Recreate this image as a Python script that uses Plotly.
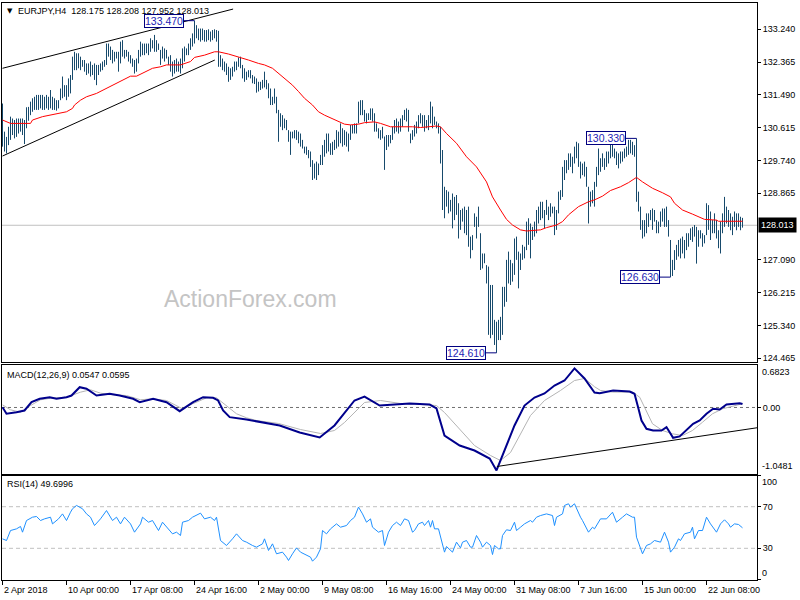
import plotly.graph_objects as go

# ---------------- data ----------------
bar_high = [131.26,130.51,130.37,130.64,130.91,130.86,130.82,130.86,130.86,130.86,
130.86,130.82,131.16,131.17,131.31,131.40,131.44,131.49,131.49,131.49,
131.49,131.44,131.49,131.44,131.62,131.44,131.40,131.35,131.35,131.66,
131.98,131.75,131.75,131.93,132.02,132.51,132.64,132.60,132.60,132.51,
132.42,132.42,132.33,132.33,132.38,132.29,132.33,132.29,132.29,132.33,
132.38,132.42,132.86,132.86,132.78,132.69,132.64,132.64,132.64,132.91,
132.95,132.69,132.69,132.64,132.55,132.46,132.42,132.46,132.69,132.91,
132.86,132.86,132.86,132.86,133.00,132.95,133.09,132.95,132.86,132.69,
132.78,132.73,132.69,132.51,132.55,132.38,132.42,132.46,132.38,132.46,
132.73,132.78,132.73,132.86,133.00,133.13,133.47,133.35,133.26,133.26,
133.26,133.22,133.22,133.24,133.18,133.22,133.24,133.22,133.20,132.55,
132.46,132.38,132.33,132.24,132.20,132.24,132.38,132.38,132.49,132.51,
132.29,132.20,132.11,132.15,132.15,132.02,131.98,131.93,131.84,131.84,
131.89,132.11,131.89,131.80,131.66,131.44,131.66,131.44,131.09,131.00,
130.95,130.86,130.82,130.55,130.51,130.51,130.55,130.55,130.51,130.46,
130.29,130.11,130.11,130.02,129.98,129.75,129.66,129.71,129.66,129.89,
130.15,130.29,130.46,130.46,130.20,130.24,130.29,130.55,130.51,130.73,
130.60,130.55,130.51,130.46,130.69,130.69,130.73,130.73,131.31,131.35,
131.35,131.09,131.00,131.00,131.13,131.13,131.00,130.73,130.60,130.55,
130.64,130.38,130.42,130.42,130.42,130.64,130.82,130.86,130.78,130.86,
130.95,131.09,131.13,131.09,130.46,130.55,130.69,130.78,130.95,131.00,
130.95,130.95,130.82,130.95,131.31,131.18,130.91,130.78,130.73,130.64,
130.02,129.04,128.95,128.91,128.69,128.86,128.77,128.82,128.60,128.42,
128.46,128.51,128.42,128.51,127.71,127.75,128.33,128.24,128.51,127.80,
127.26,127.26,126.95,126.91,126.42,126.42,125.49,125.44,125.49,125.57,
126.37,126.37,127.09,127.31,127.09,127.00,127.66,127.71,127.31,127.26,
127.49,127.44,128.11,128.20,128.06,127.97,128.11,128.42,128.51,128.64,
128.64,128.42,128.69,128.51,128.60,128.51,128.51,128.42,128.91,128.95,
129.57,129.75,129.75,129.93,129.93,129.84,130.11,130.24,130.20,129.71,
129.66,129.71,129.57,129.04,128.91,128.95,129.17,129.57,130.06,129.80,
129.93,129.80,129.98,129.98,130.20,130.29,130.06,129.98,129.93,129.98,
129.98,130.06,130.11,130.29,130.29,130.24,130.15,130.33,128.91,128.51,
128.15,128.15,128.33,128.33,128.42,128.46,128.42,128.15,128.11,128.38,
128.46,128.46,128.51,128.15,127.62,127.09,127.35,127.49,127.62,127.66,
127.71,127.62,127.80,127.80,127.93,127.97,128.02,127.97,127.88,127.88,
127.80,127.75,128.60,128.55,128.38,128.15,128.33,128.15,127.88,128.11,
128.33,128.77,128.51,128.42,128.33,128.24,128.38,128.33,128.33,128.24,
128.21]

bar_low = [130.11,129.98,129.93,130.15,130.29,130.42,130.33,130.37,130.46,130.51,
130.42,130.18,130.60,130.80,130.95,131.04,131.09,131.09,131.09,131.13,
131.09,131.09,131.13,131.09,131.13,131.09,131.09,131.07,131.13,131.35,
131.40,131.44,131.35,131.44,131.53,131.89,132.15,132.15,132.20,132.15,
132.24,132.11,132.02,132.06,131.98,132.02,131.89,131.75,132.02,132.11,
132.15,132.24,132.29,132.51,132.42,132.33,132.38,132.46,132.11,132.33,
132.51,132.46,132.51,132.38,132.33,132.24,132.06,132.11,132.33,132.51,
132.55,132.55,132.60,132.55,132.64,132.73,132.64,132.64,132.69,132.29,
132.46,132.38,132.46,132.29,132.11,131.98,132.06,132.11,132.11,132.06,
132.20,132.38,132.55,132.55,132.69,132.78,132.86,133.00,132.95,132.91,
132.95,132.91,132.91,132.95,132.91,132.95,133.00,132.91,132.24,132.24,
132.15,132.11,132.02,131.84,131.89,131.98,132.11,132.15,132.24,132.20,
131.93,131.84,131.89,131.96,131.93,131.80,131.78,131.55,131.58,131.62,
131.66,131.69,131.64,131.40,131.22,131.22,131.26,131.00,130.24,130.64,
130.55,130.60,130.55,130.24,129.89,130.33,130.33,130.29,130.20,130.11,
130.06,129.93,129.89,129.80,129.57,129.22,129.26,129.22,129.35,129.62,
129.62,129.84,129.93,129.98,129.89,129.89,130.02,130.06,130.11,130.20,
130.11,130.15,130.11,129.98,130.29,130.46,130.46,130.46,130.73,130.95,
130.95,130.78,130.73,130.82,130.82,130.78,130.51,130.51,130.33,130.29,
130.33,129.49,130.02,130.11,130.20,130.29,130.46,130.51,130.46,130.51,
130.64,130.82,130.78,130.51,130.20,130.29,130.38,130.46,130.60,130.73,
130.64,130.51,130.60,130.55,130.73,130.60,130.69,130.60,130.46,129.66,
128.42,128.20,128.51,128.33,128.38,127.93,128.15,128.29,127.66,127.89,
128.11,127.80,127.75,127.44,127.13,127.35,127.97,127.66,127.97,126.82,
126.86,127.00,126.46,125.09,125.00,125.09,124.82,124.61,124.95,124.95,
125.09,125.84,125.97,126.46,126.42,126.51,126.69,127.09,126.33,126.82,
127.09,127.13,127.35,127.49,127.13,127.62,127.71,127.80,128.06,128.15,
128.20,127.93,128.29,128.15,128.24,128.33,127.75,127.89,128.33,128.69,
128.77,129.22,129.40,129.49,129.57,129.40,129.66,129.80,129.57,129.26,
129.35,129.31,129.04,128.06,128.51,128.60,128.51,129.04,129.35,129.44,
129.57,129.49,129.57,129.66,129.80,129.84,129.80,129.62,129.53,129.66,
129.71,129.80,129.84,129.89,129.93,129.89,129.84,128.64,128.38,127.89,
127.66,127.71,127.80,127.97,128.15,127.89,128.11,127.80,127.80,127.97,
128.11,127.97,127.97,127.71,126.63,126.66,126.82,127.09,127.18,127.13,
127.26,127.13,127.35,127.44,127.62,127.57,127.71,126.99,127.44,127.66,
127.44,127.53,127.75,127.89,127.62,127.80,127.80,127.66,127.40,127.26,
127.80,127.97,128.06,127.97,127.88,127.75,127.97,127.88,127.97,127.88,
127.95]

ma_bar = [0,2,4,14,15,20,28,32,35,36,39,42,47,52,57,62,64,67,72,75,79,82,89,94,96,101,106,108,
          113,118,123,128,131,135,138,141,145,148,151,155,158,161,165,168,171,174,178,181,186,189,
          194,205,209,217,219,222,227,232,237,242,245,249,252,255,259,262,265,269,272,277,280,283,
          288,293,296,300,304,309,313,317,320,325,330,334,336,340,345,351,357,358,370]
ma_value = [130.82,130.78,130.73,130.73,130.82,130.91,131.00,131.04,131.13,131.22,131.35,131.44,
            131.53,131.66,131.80,131.93,131.99,131.99,132.11,132.20,132.24,132.29,132.29,132.38,
            132.49,132.55,132.64,132.64,132.58,132.51,132.42,132.33,132.29,132.20,132.06,131.93,
            131.75,131.58,131.40,131.22,131.04,130.95,130.86,130.78,130.71,130.69,130.71,130.75,
            130.77,130.73,130.64,130.64,130.62,130.66,130.64,130.46,130.20,129.84,129.57,129.17,
            128.77,128.42,128.17,128.02,127.89,127.86,127.87,127.89,127.95,128.02,128.11,128.29,
            128.51,128.64,128.69,128.79,128.94,129.04,129.15,129.29,129.17,129.00,128.88,128.77,
            128.60,128.42,128.31,128.17,128.15,128.12,128.12]

macd_bar = [0,2,7,11,14.5,18.6,23.6,27,32,34.5,38.6,42,47,53.6,58.6,65.3,68.6,75.3,82,85.3,88.6,
            95.3,100.3,105.3,107.8,110.3,113.6,122,127,138.6,148.6,158.6,166,171,176,181,188.6,196,
            203.6,213.6,217,221,228.6,236,243.6,247,251,256,261,266,271,276,281,286,291,296,298.6,
            305.3,313.6,316,317.8,319.5,322,325.3,329.5,332,333.6,335.3,338.6,342,345.3,348.6,352,
            355.3,358.6,362,365.3,368.6,370]
macd_value = [0.005,-0.100,-0.075,-0.048,0.084,0.138,0.163,0.138,0.163,0.190,0.322,0.297,0.190,
              0.217,0.190,0.138,0.084,0.138,0.084,0.005,-0.059,0.084,0.163,0.153,0.111,-0.048,
              -0.154,-0.191,-0.218,-0.286,-0.397,-0.476,-0.286,-0.095,0.111,0.174,0.031,0.047,
              0.063,0.047,-0.016,-0.445,-0.604,-0.683,-0.810,-1.000,-0.683,-0.286,0.031,0.158,
              0.222,0.349,0.428,0.620,0.460,0.238,0.227,0.270,0.254,0.217,0.005,-0.207,-0.338,
              -0.365,-0.365,-0.313,-0.392,-0.481,-0.460,-0.365,-0.259,-0.207,-0.100,-0.021,-0.032,
              0.047,0.058,0.068,0.0547]

signal_bar = [0,4,9,14,19,24,32,39,44,49,55,62,69,75,82,87,90,95,102,107,112,117,122,127,138,149,
              159,166,171,176,181,189,199,209,217,221,229,236,244,249,254,259,264,271,279,286,291,
              296,299,305,315,318.6,322,325,330,335,340,345,350,355,360,365,370]
signal_value = [0.042,-0.037,-0.075,0.031,0.122,0.147,0.163,0.243,0.281,0.227,0.201,0.190,0.122,
                0.138,0.111,0.031,-0.021,0.058,0.153,0.153,0.031,-0.100,-0.164,-0.207,-0.254,
                -0.350,-0.413,-0.365,-0.238,-0.080,0.079,0.111,0.063,0.047,0.031,-0.080,-0.365,
                -0.604,-0.762,-0.842,-0.715,-0.413,-0.127,0.111,0.270,0.428,0.460,0.330,0.270,
                0.245,0.243,0.163,-0.048,-0.259,-0.365,-0.418,-0.445,-0.365,-0.234,-0.100,-0.021,
                0.016,0.0595]

rsi_bar = [0,2,4,7,9,10,12,15,17,19,21,24,25,28,30,32,34,35,37,40,42,44,46,49,52,55,57,59,61,64,
           66,69,70,73,75,78,80,83,85,87,89,90,93,95,99,101,104,106,107,109,112,115,117,120,122,
           125,127,130,131,133,135,137,140,142,143,145,147,149,152,154,155,157,159,160,162,164,
           167,169,172,174,176,178,180,182,184,185,188,190,191,193,195,197,199,201,203,205,206,
           208,210,211,213,214,215,216,218,219,221,222,225,227,229,230,232,234,235,237,239,240,
           242,244,245,246,248,249,250,252,254,256,257,259,261,264,265,267,269,272,275,276,277,
           280,281,283,284,286,287,289,290,293,295,296,299,302,305,307,310,312,315,316,317,319,
           320,322,324,326,329,331,333,334,336,338,339,341,344,345,346,348,350,352,354,357,359,
           361,363,364,366,368,370]
rsi_value = [39.1,37.5,47.1,48.7,51.0,45.5,56.7,59.9,60.6,56.7,58.3,59.9,53.5,58.3,63.1,56.7,64.7,
             68.0,71.2,68.0,63.1,59.9,51.9,58.3,66.3,56.7,59.9,53.5,59.9,53.5,45.5,53.5,59.9,55.1,
             56.7,47.1,55.1,48.7,43.9,45.5,42.3,55.1,56.7,59.9,63.8,58.3,59.9,56.7,59.9,37.5,32.7,
             39.1,43.9,37.5,35.9,32.7,31.1,34.3,39.1,27.9,34.3,24.7,26.3,21.5,18.3,24.7,30.4,26.3,
             23.1,21.5,17.6,21.5,29.5,47.1,43.9,48.7,53.5,50.3,51.9,56.7,59.9,69.6,63.1,55.1,58.3,
             50.3,45.5,47.1,32.7,45.5,51.9,55.1,51.9,58.3,56.7,45.5,47.1,53.5,55.1,51.9,56.7,50.3,
             56.7,48.7,48.7,40.7,26.3,31.7,26.3,35.9,30.4,35.9,37.5,31.1,31.1,42.3,35.9,31.1,35.9,
             32.7,24.0,32.7,29.5,29.5,42.3,47.8,47.1,55.1,47.1,50.3,53.5,56.7,55.1,59.9,61.5,63.1,
             61.5,51.9,59.9,63.1,71.2,72.8,69.6,72.8,67.9,59.9,56.7,45.5,50.3,48.7,58.3,58.3,64.7,
             55.1,59.9,63.1,59.9,59.9,40.7,31.1,24.7,32.7,34.3,37.5,35.9,45.5,35.9,26.3,31.1,39.1,
             37.5,43.9,45.5,50.3,39.1,47.1,47.1,59.9,53.5,45.5,53.5,57.4,53.5,50.3,53.5,52.9,49.7]

time_tick_bars = [0, 32, 64, 96, 128, 160, 192, 224, 256, 288, 320, 352]
time_labels = ["2 Apr 2018", "10 Apr 00:00", "17 Apr 08:00", "24 Apr 16:00", "2 May 00:00",
               "9 May 08:00", "16 May 16:00", "24 May 00:00", "31 May 08:00", "7 Jun 16:00",
               "15 Jun 00:00", "22 Jun 08:00"]
price_ticks = [133.240, 132.365, 131.490, 130.615, 129.740, 128.865, 127.090, 126.215, 125.340, 124.465]
last_ohlc = [128.175, 128.208, 127.952, 128.013]
macd_last = [0.0547, 0.0595]
rsi_last = 49.6996
macd_scale = [-1.0481, 0.6823]
rsi_levels = [70, 30]
mark_bars = [96, 317, 247, 334]
mark_prices = [133.470, 130.330, 124.610, 126.630]
channel_upper_bars = [0, 115.3]
channel_upper_prices = [132.20, 133.78]
channel_lower_bars = [0, 106.15]
channel_lower_prices = [129.86, 132.42]
macd_trend_bars = [247.2, 377.3]
macd_trend_values = [-0.937, -0.322]

# ---------------- layout helpers ----------------
W, H = 800, 600
ML, MR = 2, 43
PW = W - ML - MR
FONT = "Liberation Sans"


def px(x):
    return (x - ML) / PW


def py(y):
    return 1 - y / H


BAR_COLOR = "#174a6c"
NAVY = "#000080"

fig = go.Figure()

# OHLC bars as vertical high-low lines
bx, by = [], []
for i, (h, l) in enumerate(zip(bar_high, bar_low)):
    bx += [i, i, None]
    by += [l, h, None]
fig.add_trace(go.Scatter(x=bx, y=by, mode="lines", line=dict(color=BAR_COLOR, width=1),
                         xaxis="x2", yaxis="y", hoverinfo="skip"))
fig.add_trace(go.Scatter(x=ma_bar, y=ma_value, mode="lines", line=dict(color="#ff0000", width=1),
                         xaxis="x2", yaxis="y", hoverinfo="skip"))
fig.add_trace(go.Scatter(x=channel_upper_bars, y=channel_upper_prices, mode="lines",
                         line=dict(color="black", width=1), xaxis="x2", yaxis="y"))
fig.add_trace(go.Scatter(x=channel_lower_bars, y=channel_lower_prices, mode="lines",
                         line=dict(color="black", width=1), xaxis="x2", yaxis="y"))

# MACD
fig.add_trace(go.Scatter(x=signal_bar, y=signal_value, mode="lines",
                         line=dict(color="#b4b4b4", width=1), xaxis="x3", yaxis="y2"))
fig.add_trace(go.Scatter(x=macd_bar, y=macd_value, mode="lines",
                         line=dict(color="#00008c", width=2), xaxis="x3", yaxis="y2"))
fig.add_trace(go.Scatter(x=macd_trend_bars, y=macd_trend_values, mode="lines",
                         line=dict(color="black", width=1), xaxis="x3", yaxis="y2"))

# RSI
fig.add_trace(go.Scatter(x=rsi_bar, y=rsi_value, mode="lines",
                         line=dict(color="#1e90ff", width=1), xaxis="x", yaxis="y3"))

xr = [-0.25, -0.25 + PW / 2.0]

main_top, main_bot = 2.5, 361.5
macd_top, macd_bot = 364.5, 473.5
rsi_top, rsi_bot = 475.5, 579.5
slope = 0.026674
p_at0 = 133.240 + 29.3 * slope
main_range = [p_at0 - main_bot * slope, p_at0 - main_top * slope]

axis_common = dict(showline=True, mirror=True, linecolor="black", linewidth=1,
                   showgrid=False, zeroline=False, automargin=False)
fnt = dict(family=FONT, size=9, color="black")

fig.update_layout(
    width=W, height=H, template="none",
    margin=dict(l=ML, r=MR, t=0, b=0, pad=0),
    paper_bgcolor="white", plot_bgcolor="white",
    showlegend=False, hovermode=False,
    xaxis=dict(domain=[0, 1], anchor="y3", range=xr, ticks="outside", ticklen=4,
               tickcolor="black", tickvals=time_tick_bars, showticklabels=False, **axis_common),
    xaxis2=dict(domain=[0, 1], anchor="y", range=xr, matches="x", ticks="",
                showticklabels=False, **axis_common),
    xaxis3=dict(domain=[0, 1], anchor="y2", range=xr, matches="x", ticks="",
                showticklabels=False, **axis_common),
    yaxis=dict(domain=[py(main_bot), py(main_top)], anchor="x2", side="right", range=main_range,
               tickvals=price_ticks, ticktext=["%.3f" % v for v in price_ticks],
               ticks="outside", ticklen=3, tickcolor="black", tickfont=fnt, **axis_common),
    yaxis2=dict(domain=[py(macd_bot), py(macd_top)], anchor="x3", side="right", range=macd_scale,
                tickvals=[0], ticktext=["0.00"], ticks="outside", ticklen=3, tickcolor="black",
                tickfont=fnt, **axis_common),
    yaxis3=dict(domain=[py(rsi_bot), py(rsi_top)], anchor="x", side="right", range=[0, 100],
                tickvals=[100] + rsi_levels + [0], ticktext=[""] + [str(v) for v in rsi_levels] + [""],
                ticks="outside", ticklen=3, tickcolor="black", tickfont=fnt, **axis_common),
)

shapes = []
shapes.append(dict(type="line", xref="paper", x0=0, x1=1, yref="y", y0=last_ohlc[3], y1=last_ohlc[3],
                   line=dict(color="#c0c0c0", width=1), layer="below"))
shapes.append(dict(type="line", xref="paper", x0=0, x1=1, yref="y2", y0=0, y1=0,
                   line=dict(color="#707070", width=1, dash="3px,3px"), layer="below"))
for lv in rsi_levels:
    shapes.append(dict(type="line", xref="paper", x0=0, x1=1, yref="y3", y0=lv, y1=lv,
                       line=dict(color="#c0c0c0", width=1, dash="4px,3px"), layer="below"))
fig.update_layout(shapes=shapes)

ann = []
ann.append(dict(text="▼", x=px(10), y=py(11), xref="paper", yref="paper", showarrow=False,
                xanchor="center", yanchor="middle", font=dict(family="DejaVu Sans", size=7, color="black")))
ann.append(dict(text="EURJPY,H4  " + " ".join("%.3f" % v for v in last_ohlc),
                x=px(16), y=py(11), xref="paper", yref="paper", showarrow=False,
                xanchor="left", yanchor="middle", font=fnt))
ann.append(dict(text="MACD(12,26,9) %.4f %.4f" % tuple(macd_last), x=px(5), y=py(375),
                xref="paper", yref="paper", showarrow=False, xanchor="left", yanchor="middle", font=fnt))
ann.append(dict(text="RSI(14) %.4f" % rsi_last, x=px(5), y=py(484),
                xref="paper", yref="paper", showarrow=False, xanchor="left", yanchor="middle", font=fnt))
ann.append(dict(text="ActionForex.com", x=px(251), y=py(299), xref="paper", yref="paper",
                showarrow=False, xanchor="center", yanchor="middle",
                font=dict(family=FONT, size=23, color="#c4c4c4")))
ann.append(dict(text="%.4f" % macd_scale[1], x=1, y=py(372), xref="paper", yref="paper", showarrow=False,
                xanchor="left", yanchor="middle", xshift=3, font=fnt))
ann.append(dict(text="%.4f" % macd_scale[0], x=1, y=py(466), xref="paper", yref="paper", showarrow=False,
                xanchor="left", yanchor="middle", xshift=3, font=fnt))
ann.append(dict(text="100", x=1, y=py(482), xref="paper", yref="paper", showarrow=False,
                xanchor="left", yanchor="middle", xshift=3, font=fnt))
ann.append(dict(text="0", x=1, y=py(572.5), xref="paper", yref="paper", showarrow=False,
                xanchor="left", yanchor="middle", xshift=3, font=fnt))
ann.append(dict(text="%.3f" % last_ohlc[3], x=1, y=last_ohlc[3], xref="paper", yref="y", showarrow=False,
                xanchor="left", yanchor="middle", xshift=1, bgcolor="black", borderpad=2,
                font=dict(family=FONT, size=9, color="white")))
for b, t in zip(time_tick_bars, time_labels):
    ann.append(dict(text=t, x=b, y=py(590), xref="x", yref="paper", showarrow=False,
                    xanchor="left", yanchor="middle", xshift=-1, font=fnt))
for b, p in zip(mark_bars, mark_prices):
    ann.append(dict(text="%.3f" % p, x=b, y=p, xref="x2", yref="y", showarrow=True,
                    ax=-31, ay=0, arrowhead=0, arrowwidth=1, arrowcolor=NAVY, standoff=0,
                    bordercolor=NAVY, borderwidth=1, borderpad=0, bgcolor="white",
                    font=dict(family=FONT, size=10.5, color="#2323b4")))
fig.update_layout(annotations=ann)

fig.write_html("out.html", config={"displayModeBar": False},
               post_script="document.body.style.margin='0px';document.body.style.overflow='hidden';")
